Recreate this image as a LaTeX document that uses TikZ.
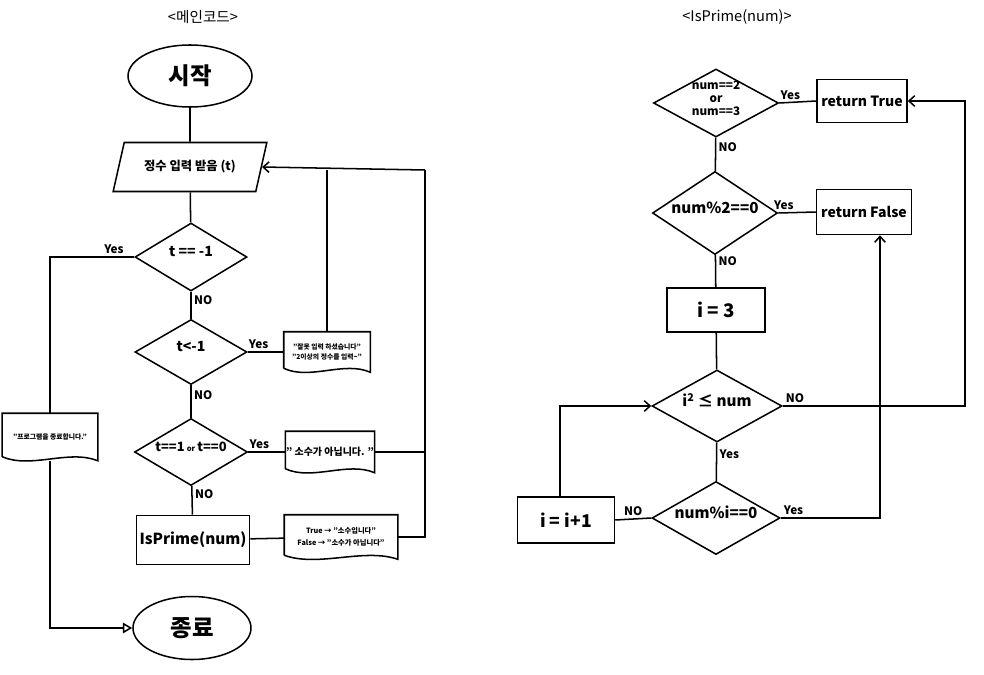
\documentclass[tikz,border=0pt]{standalone}
\usepackage{fontspec}
\setmainfont{Noto Sans CJK KR}
\usepackage{tikz}
\usetikzlibrary{shapes.geometric,arrows.meta,calc}

% text of a decision box, kept out of the shape size
\newcommand{\dia}[1]{\makebox[0pt]{\smash{\begin{tabular}{@{}c@{}}#1\end{tabular}}}}
% outline of a document box with a wavy bottom
\newcommand{\docedge}[1]{\draw (#1.south west) ++(0,0.12cm) -- (#1.north west) -- (#1.north east) -- (#1.south east)
  .. controls ($(#1.south east)!0.3!(#1.south west)+(0,0.35cm)$) and ($(#1.south east)!0.7!(#1.south west)+(0,-0.25cm)$) .. ($(#1.south west)+(0,0.12cm)$);}

\begin{document}
\begin{tikzpicture}[x=0.03cm,y=-0.03cm,line width=1.3pt,>={Straight Barb[length=5pt,width=9pt]}]
      \tikzstyle{term}=[ellipse,draw,minimum width=3.72cm,minimum height=1.86cm,font=\fontsize{20}{22}\selectfont\bfseries]
      \tikzstyle{io}=[trapezium,trapezium left angle=68,trapezium right angle=112,trapezium stretches=true,draw,minimum width=4.65cm,minimum height=1.47cm,font=\fontsize{10.5}{12}\selectfont\bfseries]
      \tikzstyle{cond}=[diamond,draw,inner sep=0pt,font=\fontsize{12}{14}\selectfont\bfseries]
      \tikzstyle{proc}=[rectangle,draw,inner sep=0pt,font=\fontsize{15}{18}\selectfont\bfseries]
      \tikzstyle{doc}=[rectangle,inner sep=0pt,align=center,font=\fontsize{5.8}{9}\selectfont\bfseries]
      \tikzstyle{lbl}=[inner sep=2pt,font=\fontsize{10}{11}\selectfont\bfseries]
      \tikzstyle{title}=[font=\fontsize{12.5}{14}\selectfont]
      \useasboundingbox (0,0) rectangle (984,675);
      \node[title] (T_main)  at (203,17) {<메인코드>};
      \node[title] (T_prime) at (737,17) {<IsPrime(num)>};
      % main code
      \node[term] (start) at (190,76) {시작};
      \node[io] (input) at (190,167) {정수 입력 받음 (t)};
      \node[cond,minimum width=3.36cm,minimum height=2.04cm] (D_1) at (191,257) {\dia{t == -1}};
      \node[cond,minimum width=3.36cm,minimum height=1.95cm] (D_2) at (191,352) {\dia{t<-1}};
      \node[cond,minimum width=3.39cm,minimum height=2.01cm,font=\fontsize{11}{13}\selectfont\bfseries] (D_3) at (191,452) {\dia{t==1\,{\fontsize{6.5}{8}\selectfont or}\,t==0}};
      \node[proc,minimum width=3.39cm,minimum height=1.47cm,font=\fontsize{13}{16}\selectfont\bfseries] (prime) at (193,540) {IsPrime(num)};
      \node[term,minimum width=3.54cm,minimum height=1.89cm] (stop) at (192,628) {종료};
      \node[doc,minimum width=2.55cm,minimum height=1.17cm] (M_1) at (327,352) {"잘못 입력 하셨습니다"\\"2이상의 정수를 입력\textasciitilde"};
      \node[doc,minimum width=2.55cm,minimum height=1.2cm,font=\fontsize{8.5}{9}\selectfont\bfseries] (M_2) at (330,452) {" 소수가 아닙니다. "};
      \node[doc,minimum width=3.36cm,minimum height=1.29cm,font=\fontsize{6.2}{10}\selectfont\bfseries] (M_3) at (341,537) {True → "소수입니다"\\False → "소수가 아닙니다"};
      \node[doc,minimum width=2.82cm,minimum height=1.38cm] (M_end) at (50,437) {"프로그램을 종료합니다."};
      \docedge{M_1} \docedge{M_2} \docedge{M_3} \docedge{M_end}
      \coordinate (bus) at (425,170);
      \draw (start) -- (input);
      \draw (input) -- (D_1);
      \draw (D_1.west) -| node[lbl,above,pos=0.12] {Yes} (M_end.north);
      \draw[-{Triangle[open,length=8pt,width=9pt]}] (M_end.south) |- (stop.west);
      \draw (D_1) -- node[lbl,right,pos=0.3] {NO} (D_2);
      \draw (D_2) -- node[lbl,right,pos=0.3] {NO} (D_3);
      \draw (D_3) -- node[lbl,right,pos=0.3] {NO} (prime);
      \draw (D_2.east) -- node[lbl,above,pos=0.3] {Yes} (M_1.west);
      \draw (D_3.east) -- node[lbl,above,pos=0.3] {Yes} (M_2.west);
      \draw (prime) -- (M_3);
      \draw (M_1.north) -- (M_1.north |- bus);
      \draw (M_2.east) -- (M_2.east -| bus);
      \draw (M_3.east) -- (M_3.east -| bus) -- (bus);
      \draw[->] (bus) -- (input.east);
      % IsPrime(num)
      \node[cond,minimum width=3.75cm,minimum height=2.04cm,font=\fontsize{10}{11}\selectfont\bfseries] (C_1) at (716,103) {\dia{num==2\\or\\num==3}};
      \node[cond,minimum width=3.75cm,minimum height=2.49cm,font=\fontsize{13}{15}\selectfont\bfseries] (C_2) at (715,213) {\dia{num\%2==0}};
      \node[proc,minimum width=2.94cm,minimum height=1.32cm,font=\fontsize{16}{18}\selectfont\bfseries] (init) at (716,310) {i = 3};
      \node[cond,minimum width=3.9cm,minimum height=2.16cm,font=\fontsize{13}{15}\selectfont\bfseries] (loop) at (717,406) {\dia{i\textsuperscript{2} ≤ num}};
      \node[cond,minimum width=3.84cm,minimum height=2.19cm,font=\fontsize{13}{15}\selectfont\bfseries] (check) at (716,518) {\dia{num\%i==0}};
      \node[proc,minimum width=2.91cm,minimum height=1.38cm] (inc) at (566,520) {i = i+1};
      \node[proc,minimum width=2.7cm,minimum height=1.29cm,font=\fontsize{12}{14}\selectfont\bfseries] (retT) at (862,101) {return True};
      \node[proc,minimum width=2.85cm,minimum height=1.35cm,font=\fontsize{12}{14}\selectfont\bfseries] (retF) at (864,212) {return False};
      \coordinate (rbus) at (965,101);
      \draw (C_1.east) -- node[lbl,above,pos=0.3] {Yes} (retT.west);
      \draw (C_2.east) -- node[lbl,above,pos=0.15] {Yes} (retF.west);
      \draw (C_1) -- node[lbl,right,pos=0.3] {NO} (C_2);
      \draw (C_2) -- node[lbl,right,pos=0.2] {NO} (init);
      \draw (init) -- (loop);
      \draw (loop) -- node[lbl,right,pos=0.3] {Yes} (check);
      \draw[->] (loop.east) -| node[lbl,above right,pos=0] {NO} (rbus) -- (retT.east);
      \draw[->] (check.east) -| node[lbl,above right,pos=0] {Yes} ([xshift=0.48cm]retF.south);
      \draw (check.west) -- node[lbl,above] {NO} (inc.east);
      \draw[->] ([xshift=-0.18cm]inc.north) |- (loop.west);
    \end{tikzpicture}
\end{document}
